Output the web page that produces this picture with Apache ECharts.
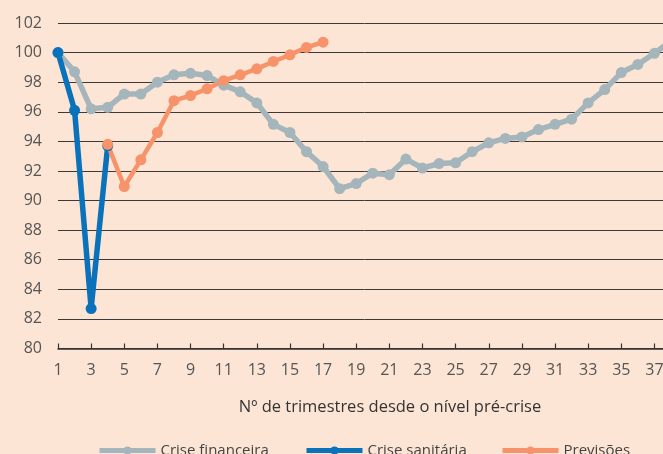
<!DOCTYPE html>
<html>
<head>
<meta charset="utf-8">
<script src="https://cdn.jsdelivr.net/npm/echarts@6/dist/echarts.min.js"></script>
<style>
html,body{margin:0;padding:0;overflow:hidden;background:#FDE5D5;}
#c{width:700px;height:454px;}
</style>
</head>
<body>
<div id="c"></div>
<script>
const categories = ['1','2','3','4','5','6','7','8','9','10','11','12','13','14','15','16','17','18','19','20','21','22','23','24','25','26','27','28','29','30','31','32','33','34','35','36','37','38'];
const criseFinanceira = [100, 98.7, 96.2, 96.3, 97.2, 97.2, 98.0, 98.5, 98.6, 98.45, 97.8, 97.35, 96.6, 95.15, 94.6, 93.3, 92.3, 90.8, 91.15, 91.85, 91.75, 92.8, 92.2, 92.5, 92.55, 93.3, 93.9, 94.2, 94.3, 94.8, 95.15, 95.5, 96.6, 97.5, 98.65, 99.2, 99.95, 100.8];
const criseSanitaria = [100, 96.1, 82.7, 93.7];
const previsoes = [null, null, null, 93.8, 90.95, 92.75, 94.6, 96.75, 97.1, 97.55, 98.1, 98.5, 98.9, 99.4, 99.85, 100.35, 100.7];
const yMin = 80, yMax = 102, yStep = 2;
const seriesNames = ['Crise financeira', 'Crise sanitária', 'Previsões'];
const axisTitle = 'Nº de trimestres desde o nível pré-crise';

const FONT = "'Open Sans', 'Noto Sans', sans-serif";
const chart = echarts.init(document.getElementById('c'));
function mk(name, data, color, lw, sym) {
  return {
    name: name, type: 'line', data: data, color: color,
    symbol: 'circle', symbolSize: sym, showAllSymbol: true, connectNulls: false,
    lineStyle: {width: lw, color: color},
    itemStyle: {color: color},
    emphasis: {disabled: true}
  };
}
function lg(name, left) {
  return {
    top: 443, left: left, itemWidth: 56, itemHeight: 10, padding: 0,
    lineStyle: {width: 5},
    textStyle: {fontFamily: FONT, fontSize: 15, color: '#444'},
    data: [name]
  };
}
chart.setOption({
  animation: false,
  backgroundColor: '#FDE5D5',
  grid: {left: 58, right: 29, top: 23, bottom: 105.5, containLabel: false},
  xAxis: {
    type: 'category', data: categories, boundaryGap: false,
    axisLine: {lineStyle: {color: '#333', width: 1.5}},
    axisTick: {inside: true, length: 5, interval: 1, lineStyle: {color: '#333', width: 1.2}},
    axisLabel: {interval: 1, margin: 14, color: '#555', fontFamily: FONT, fontSize: 16},
    splitLine: {show: false}
  },
  yAxis: {
    type: 'value', min: yMin, max: yMax, interval: yStep,
    axisLine: {show: false}, axisTick: {show: false},
    axisLabel: {margin: 16, color: '#555', fontFamily: FONT, fontSize: 16},
    splitLine: {lineStyle: {color: '#3a3a3a', width: 1}}
  },
  legend: [lg(seriesNames[0], 97), lg(seriesNames[1], 304), lg(seriesNames[2], 500)],
  graphic: [{
    type: 'text', x: 390, y: 399,
    style: {text: axisTitle, font: "16.5px 'Open Sans', sans-serif", fill: '#333', align: 'center'}
  }],
  series: [
    mk(seriesNames[0], criseFinanceira, '#A4B6BC', 5.5, 11),
    mk(seriesNames[1], criseSanitaria, '#0A72BA', 5.5, 11),
    mk(seriesNames[2], previsoes, '#F7936A', 4.5, 11)
  ]
});
</script>
</body>
</html>
